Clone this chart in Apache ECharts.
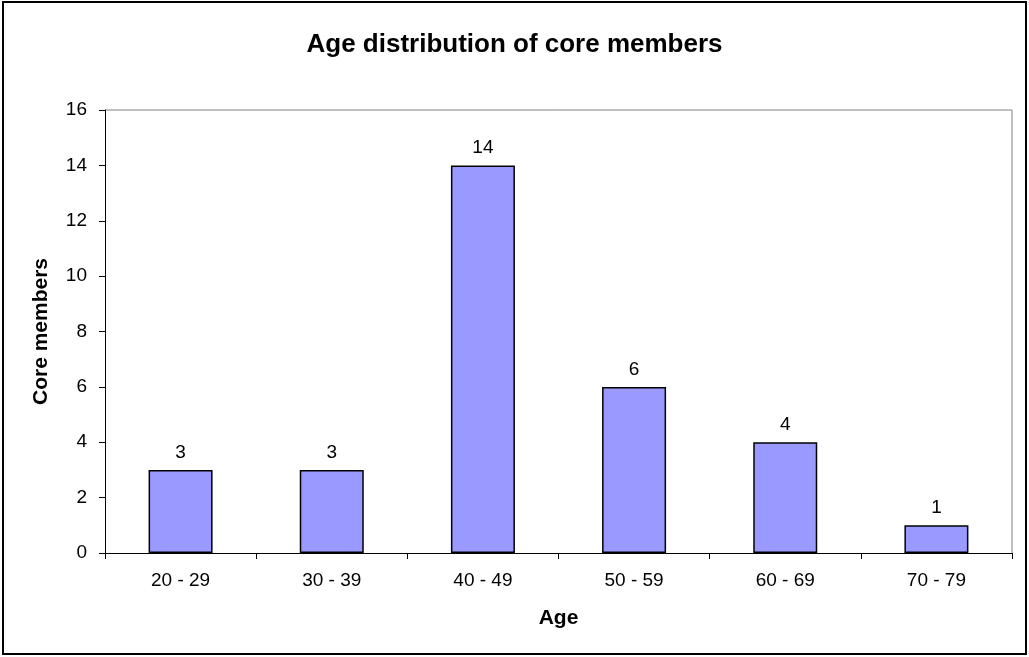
<!DOCTYPE html>
<html><head><meta charset="utf-8">
<script src="https://cdn.jsdelivr.net/npm/echarts@6/dist/echarts.min.js"></script>
<style>html,body{margin:0;padding:0;background:#fff}#c{width:1029px;height:657px}</style>
</head><body><div id="c"></div>
<script>
var categories = ['20 - 29','30 - 39','40 - 49','50 - 59','60 - 69','70 - 79'];
var members = [3, 3, 14, 6, 4, 1];
var yTicks = [0, 2, 4, 6, 8, 10, 12, 14, 16];

var chart = echarts.init(document.getElementById('c'), null, {renderer:'canvas'});
var F = 'Arial, "Liberation Sans", sans-serif';
chart.setOption({
  backgroundColor: '#fff',
  animation: false,
  title: {
    text: 'Age distribution of core members',
    left: 'center', top: 27,
    textStyle: {fontFamily: F, fontSize: 26, fontWeight: 'bold', color: '#000'}
  },
  graphic: [{
    type: 'rect', shape: {x: 3, y: 2, width: 1023, height: 652},
    style: {fill: 'none', stroke: '#000', lineWidth: 2}, silent: true, z: 100
  }, {
    type: 'line', shape: {x1: 105, y1: 110, x2: 1012, y2: 110},
    style: {stroke: '#808080', lineWidth: 1}, silent: true
  }, {
    type: 'line', shape: {x1: 1012, y1: 110, x2: 1012, y2: 553},
    style: {stroke: '#808080', lineWidth: 1}, silent: true
  }],
  grid: {left: 105, right: 17, top: 110, bottom: 104, containLabel: false},
  xAxis: {
    type: 'category', data: categories,
    name: 'Age', nameLocation: 'middle', nameGap: 55,
    nameTextStyle: {fontFamily: F, fontSize: 21, fontWeight: 'bold', color: '#000'},
    axisLine: {lineStyle: {color: '#000', width: 1}},
    axisTick: {show: true, alignWithLabel: false, length: 6, lineStyle: {color: '#000'}},
    axisLabel: {fontFamily: F, fontSize: 19, color: '#000', margin: 18}
  },
  yAxis: {
    type: 'value', min: yTicks[0], max: yTicks[yTicks.length-1], interval: 2,
    name: 'Core members', nameLocation: 'middle', nameGap: 53, nameRotate: 90,
    nameTextStyle: {fontFamily: F, fontSize: 21, fontWeight: 'bold', color: '#000'},
    axisLine: {show: true, lineStyle: {color: '#000', width: 1}},
    axisTick: {show: true, length: 6, lineStyle: {color: '#000'}},
    axisLabel: {fontFamily: F, fontSize: 19, color: '#000', margin: 18},
    splitLine: {show: false}
  },
  series: [{
    type: 'bar', data: members, barWidth: 64,
    itemStyle: {color: '#9999FF', borderColor: '#000', borderWidth: 1.5},
    label: {show: true, position: 'top', distance: 8, fontFamily: F, fontSize: 19, color: '#000'}
  }]
});
</script></body></html>
